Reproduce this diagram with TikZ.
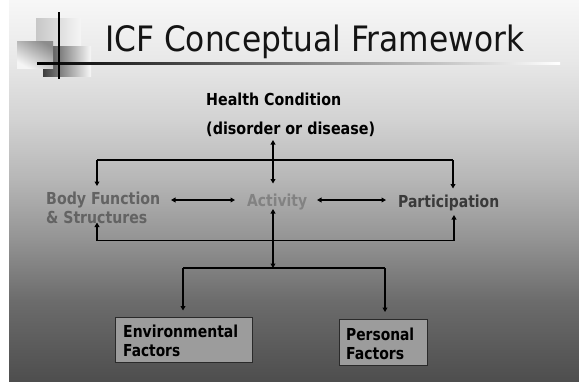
\documentclass[tikz,border=0pt]{standalone}
\usepackage{fontspec}
\usepackage{graphicx}
\setmainfont{DejaVu Sans}
\usetikzlibrary{arrows.meta}

\definecolor{bgA}{HTML}{F7F7F7}
\definecolor{bgB}{HTML}{E8E8E8}
\definecolor{bgC}{HTML}{D2D2D2}
\definecolor{bgD}{HTML}{B6B6B6}
\definecolor{bgE}{HTML}{939393}
\definecolor{bgF}{HTML}{6C6C6C}
\definecolor{bgG}{HTML}{4E4E4E}
\definecolor{bodygray}{HTML}{636363}
\definecolor{actgray}{HTML}{828282}
\definecolor{partgray}{HTML}{3A3A3A}
\definecolor{boxfill}{HTML}{9C9C9C}
\definecolor{boxline}{HTML}{2A2A2A}

% \fitto{width}{text}: set text squeezed to a given width
\newcommand{\fitto}[2]{\resizebox{#1}{\height}{#2}}

\tikzset{
  lbl/.style={inner sep=0pt, anchor=base west,
    font=\fontsize{16.5}{19}\selectfont\bfseries},
  conn/.style={line width=1.5pt, draw=black},
  tip/.tip={Triangle[length=4.5pt,width=4.8pt]},
  factorbox/.style={draw=boxline, line width=1pt, fill=boxfill,
    inner sep=0pt, anchor=north west}
}

\begin{document}
\begin{tikzpicture}[x=1pt,y=-1pt]
\useasboundingbox (0,0) rectangle (579,381);
\fill[white] (0,0) rectangle (579,381);

% slide background, light at the top and dark at the bottom
\shade[top color=bgA, bottom color=bgB] (9,0) rectangle (579,60.5);
\shade[top color=bgB, bottom color=bgC] (9,60) rectangle (579,120.5);
\shade[top color=bgC, bottom color=bgD] (9,120) rectangle (579,180.5);
\shade[top color=bgD, bottom color=bgE] (9,180) rectangle (579,240.5);
\shade[top color=bgE, bottom color=bgF] (9,240) rectangle (579,300.5);
\shade[top color=bgF, bottom color=bgG] (9,300) rectangle (579,381);

% title logo: overlapping shaded squares and cross lines
\shade[left color=black!22, right color=black!4] (36,18) rectangle (81,46);
\shade[left color=black!76, middle color=black!68, right color=black!3] (43,46) rectangle (91,76);
\shade[shading=axis, top color=black!45, bottom color=black!4, shading angle=-30] (17,41) rectangle (53,68);
\shade[left color=black, right color=white] (37,62) rectangle (560,64);
\draw[line width=1.5pt] (59,12) -- (59,79);

% title
\node[inner sep=0pt, anchor=base west, font=\fontsize{35}{40}\selectfont, text=black!92]
  (title) at (105,51.5) {\fitto{419pt}{ICF Conceptual Framework}};

% labels
\node[lbl] (hc1) at (206,105) {\fitto{135pt}{Health Condition}};
\node[lbl] (hc2) at (206,134) {\fitto{169pt}{(disorder or disease)}};
\node[lbl, text=bodygray] (bf1) at (46,204) {\fitto{114pt}{Body Function}};
\node[lbl, text=bodygray] (bf2) at (46,223) {\fitto{101pt}{\& Structures}};
\node[lbl, text=actgray] (act) at (247,206) {\fitto{60pt}{Activity}};
\node[lbl, text=partgray] (part) at (398,207) {\fitto{101pt}{Participation}};

% factor boxes
\node[factorbox, minimum width=137pt, minimum height=45pt] (env) at (115,317) {};
\node[factorbox, minimum width=88pt, minimum height=46pt] (pers) at (339,319) {};
\node[lbl] (env1) at (123,337.3) {\fitto{115pt}{Environmental}};
\node[lbl] (env2) at (123,356.7) {\fitto{57pt}{Factors}};
\node[lbl] (pers1) at (346,340) {\fitto{68pt}{Personal}};
\node[lbl] (pers2) at (346,359) {\fitto{58pt}{Factors}};

% connector end points
\coordinate (hcTip)   at (273,140);
\coordinate (actTop)  at (273,183.5);
\coordinate (actBot)  at (273,209);
\coordinate (split)   at (273,268);
\coordinate (tL)      at (97,160);
\coordinate (tR)      at (453,160);
\coordinate (bfTop)   at (97,186);
\coordinate (partTop) at (453,188.5);
\coordinate (bL)      at (97,240.5);
\coordinate (bR)      at (454,240.5);
\coordinate (bfBot)   at (97,222.5);
\coordinate (partBot) at (454,215);
\coordinate (fL)      at (183,268);
\coordinate (fR)      at (385,268);
\coordinate (envTop)  at (183,310.5);
\coordinate (persTop) at (385,312);
\coordinate (bfR)     at (171,200);
\coordinate (actL)    at (235,200);
\coordinate (actR)    at (317,200);
\coordinate (partL)   at (386,200);

% health condition <-> activity
\draw[conn, tip-tip] (hcTip) -- (actTop);
% upper bracket to body function and participation
\draw[conn] (tL) -- (tR);
\draw[conn, -tip] (tL) -- (bfTop);
\draw[conn, -tip] (tR) -- (partTop);
% horizontal links
\draw[conn, tip-tip] (bfR) -- (actL);
\draw[conn, tip-tip] (actR) -- (partL);
% lower bracket back to body function and participation
\draw[conn, -tip] (bL) -- (bfBot);
\draw[conn, -tip] (bR) -- (partBot);
\draw[conn] (bL) -- (bR);
% activity <-> contextual factors
\draw[conn, tip-tip] (actBot) -- (split);
\draw[conn] (fL) -- (fR);
\draw[conn, -tip] (fL) -- (envTop);
\draw[conn, -tip] (fR) -- (persTop);
\end{tikzpicture}
\end{document}
